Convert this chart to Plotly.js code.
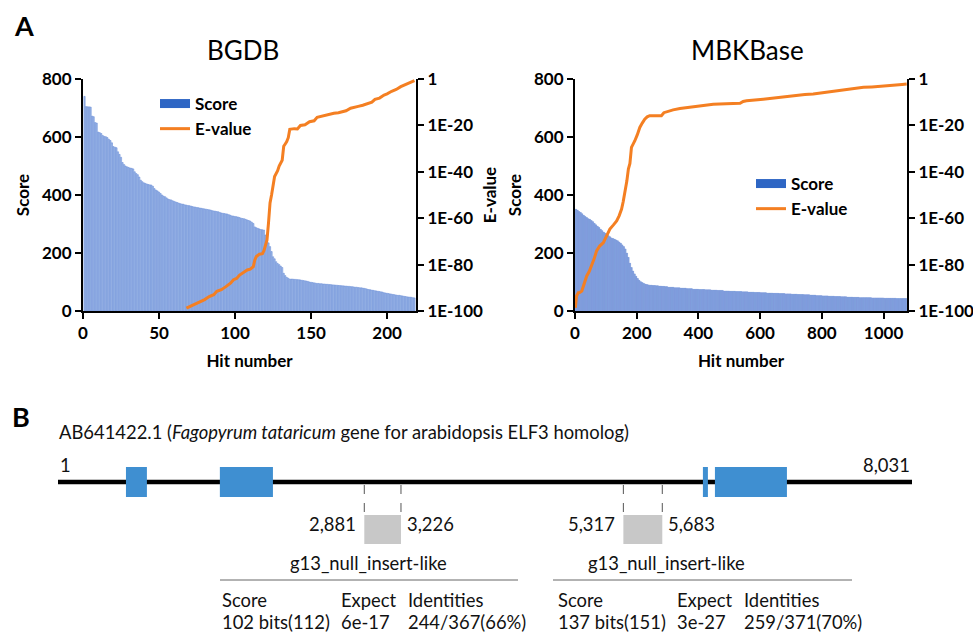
<!DOCTYPE html>
<html>
<head>
<meta charset="utf-8">
<script src="https://cdn.plot.ly/plotly-3.0.1.min.js"></script>
<style>html,body{margin:0;padding:0;background:#fff;}#chart{width:973px;height:635px;}</style>
</head>
<body>
<div id="chart"></div>
<script>
// ---------- Panel A: BGDB ----------
const bgdbScores = [
740,705,704,704,703,672,670,650,648,617,615,612,605,602,601,598,592,588,580,567,
565,563,549,540,530,512,505,500,497,495,493,492,490,480,474,470,462,451,446,442,
440,438,436,435,434,430,422,417,414,410,405,400,396,394,390,386,384,383,380,378,
376,374,372,370,369,368,366,365,364,363,362,360,359,358,357,356,355,354,353,352,
351,350,349,348,346,345,344,343,342,340,338,337,336,335,334,332,330,328,327,326,
325,324,322,320,319,318,316,314,312,310,306,302,290,287,285,283,281,280,279,262,
245,235,222,205,187,180,170,164,160,155,150,130,122,116,113,110,110,110,109,109,
108,108,107,106,105,104,103,102,100,99,98,97,96,95,95,94,94,93,93,92,
92,91,91,90,90,89,89,88,88,87,87,86,86,85,85,84,84,83,82,82,
81,80,80,79,78,77,75,74,73,72,71,70,69,68,67,66,65,63,62,61,
60,59,58,57,56,55,54,54,53,52,51,50,49,48,48,47,46,45];
const bgdbEHits = [68,70,72,75,77,80,83,86,88,91,94,97,99,101,103,106,108,110,112,113,114,116,118,119,120,121,122,123,124,126,128,129,131,132,133,134,135,136,139,141,143,146,149,152,154,157,160,163,165,168,170,173,176,178,181,184,187,190,192,195,198,200,203,206,209,212,214,216,218];
const bgdbEValues = [1.6e-99,6e-99,3.2e-98,2e-97,1e-96,8e-96,1.6e-94,1e-93,3.2e-92,1.6e-91,3.2e-90,1e-88,3.2e-87,1e-86,3.2e-85,6e-84,5e-83,1e-82,1.3e-81,1e-78,3e-77,3.2e-76,5e-76,1e-74,1e-72,4e-70,1e-62,4e-54,1e-50,1e-42,3e-40,3.2e-38,1e-35,1e-29,1e-28,1e-27,5e-26,2e-22,4e-22,3e-22,1e-20,2e-20,4e-19,1e-18,3.2e-17,1e-16,3.2e-16,6e-16,1.6e-15,3e-15,6.3e-15,2e-14,2.5e-13,4e-13,1.6e-12,5e-12,3.2e-11,1e-10,1.6e-9,6e-9,1.3e-7,4e-7,5e-6,3e-5,5e-4,3e-3,1e-2,5e-2,0.2];

// ---------- Panel A: MBKBase (score levels with number of hits at each level) ----------
const mbkScoreLevels = [351,348,343,340,335,330,326,322,318,316,312,308,302,297,292,288,282,277,272,268,
264,260,256,252,250,248,245,242,238,234,228,222,214,200,185,165,150,138,128,120,
112,106,101,98,95,93,91,90,89,88,87,86,85,84,82,80,79,77,75,74,
73,72,71,69,68,67,66,65,64,63,62,61,60,59,58,57,56,55,53,52,
51,50,49,48,47,46,46,45,45,44,44,43,43];
const mbkScoreCounts = [5,5,5,5,5,5,5,5,5,5,5,5,5,5,5,5,5,5,5,5,
5,5,5,5,5,5,5,5,5,5,5,5,5,5,5,5,5,5,5,5,
5,5,5,5,5,5,5,5,10,10,10,10,10,10,20,20,20,20,20,20,
20,20,20,20,20,20,20,20,20,20,20,20,20,20,20,20,20,20,20,20,
20,20,20,20,20,20,20,20,20,20,20,20,15];
const mbkEHits = [1,3,5,11,16,22,27,33,38,46,54,62,70,80,92,102,113,124,135,143,151,156,162,168,173,178,183,189,194,202,210,218,226,234,242,260,280,288,297,318,340,367,394,420,448,490,535,545,556,610,664,690,718,745,772,800,826,855,881,910,935,962,989,1016,1043,1060,1075];
const mbkEValues = [2.5e-99,1e-96,3.2e-94,8e-93,1e-92,4e-92,6.3e-90,1e-87,1.3e-85,1e-83,2.5e-81,3e-78,8e-75,1e-72,3.2e-71,1e-68,2e-65,1e-63,6.3e-62,1e-59,8e-57,1e-53,1e-49,1e-44,1.6e-39,4e-37,3.2e-30,1e-28,2.5e-27,1e-24,1.3e-21,1e-19,5e-18,5e-17,1.6e-16,1.6e-16,1.6e-16,3e-15,8e-15,5e-14,2e-13,6e-13,1.6e-12,5e-12,1.3e-11,2e-11,3.2e-11,2e-10,4e-10,2e-9,1.3e-8,3e-8,1.3e-7,2e-7,3.2e-7,1e-6,3.2e-6,1e-5,5e-5,1.3e-4,2.5e-4,4e-4,6.3e-4,1.3e-3,2.5e-3,4e-3,6.3e-3];

const scoreTicks = [0,200,400,600,800];
const eTickVals = [1,1e-20,1e-40,1e-60,1e-80,1e-100];
const eTickText = ['1','1E-20','1E-40','1E-60','1E-80','1E-100'];
const panelTitles = ['BGDB','MBKBase'];
const legendNames = ['Score','E-value'];

// ---------- Panel B ----------
const geneName = 'AB641422.1 (<i>Fagopyrum tataricum</i> gene for arabidopsis ELF3 homolog)';
const geneLength = 8031;
const geneEndLabels = ['1','8,031'];
const exonStarts = [640,1523,6065,6178];
const exonEnds = [837,2022,6112,6855];
const hitStarts = [2881,5317];
const hitEnds = [3226,5683];
const hitStartLabels = ['2,881','5,317'];
const hitEndLabels = ['3,226','5,683'];
const hitNames = ['g13_null_insert-like','g13_null_insert-like'];
const tableHeaders = ['Score','Expect','Identities'];
const hitScores = ['102 bits(112)','137 bits(151)'];
const hitExpects = ['6e-17','3e-27'];
const hitIdentities = ['244/367(66%)','259/371(70%)'];

// expand MBKBase score levels into per-hit values
const mbkScores = [];
mbkScoreLevels.forEach((v, i) => { for (let k = 0; k < mbkScoreCounts[i]; k++) mbkScores.push(v); });

const W = 973, H = 635;
const px = p => p / W;
const py = p => 1 - p / H;

const FONT = 'Lato, "Liberation Sans", Arial, sans-serif';
const ORANGE = '#f47f22';
const LEGBLUE = '#2e66c4';

const bold = (s) => ({family: FONT, size: s, color: '#000', weight: 'bold'});

const traces = [
  // BGDB bars
  {type: 'bar', x: bgdbScores.map((_, i) => i + 1), y: bgdbScores, width: 0.8,
   marker: {color: '#a8bfea', line: {color: '#6a8fd7', width: 0.6}},
   xaxis: 'x', yaxis: 'y', showlegend: false, hoverinfo: 'skip'},
  {type: 'scatter', mode: 'lines', x: [null], y: [null], name: legendNames[0],
   line: {color: LEGBLUE, width: 9}, xaxis: 'x', yaxis: 'y', legend: 'legend'},
  {type: 'scatter', mode: 'lines', x: bgdbEHits, y: bgdbEValues, name: legendNames[1],
   line: {color: ORANGE, width: 3}, xaxis: 'x', yaxis: 'y2', legend: 'legend'},
  // MBKBase bars
  {type: 'bar', x: mbkScores.map((_, i) => i + 1), y: mbkScores, width: 1,
   marker: {color: '#7f9edc', line: {color: '#7f9edc', width: 0.3}},
   xaxis: 'x2', yaxis: 'y3', showlegend: false, hoverinfo: 'skip'},
  {type: 'scatter', mode: 'lines', x: [null], y: [null], name: legendNames[0],
   line: {color: LEGBLUE, width: 9}, xaxis: 'x2', yaxis: 'y3', legend: 'legend2'},
  {type: 'scatter', mode: 'lines', x: mbkEHits, y: mbkEValues, name: legendNames[1],
   line: {color: ORANGE, width: 3}, xaxis: 'x2', yaxis: 'y4', legend: 'legend2'},
  // anchor trace for the gene axis
  {type: 'scatter', mode: 'lines', x: [1, geneLength], y: [0, 0], xaxis: 'x3', yaxis: 'y5',
   line: {color: 'rgba(0,0,0,0)', width: 0}, showlegend: false, hoverinfo: 'skip'}
];

const yDom = [py(311), py(79)];
const commonAxis = {
  showline: true, linecolor: '#000', linewidth: 2, ticks: 'outside', ticklen: 6, tickwidth: 2,
  tickcolor: '#000', showgrid: false, zeroline: false, tickfont: bold(17), fixedrange: true
};

const layout = {
  width: W, height: H,
  margin: {l: 0, r: 0, t: 0, b: 0},
  paper_bgcolor: '#fff', plot_bgcolor: 'rgba(0,0,0,0)',
  font: {family: FONT, color: '#000'},
  barmode: 'overlay',
  xaxis: Object.assign({}, commonAxis, {domain: [px(83), px(416)], range: [0, 219], anchor: 'y',
    tickvals: [0, 50, 100, 150, 200], title: {text: 'Hit number', font: bold(17), standoff: 13}}),
  yaxis: Object.assign({}, commonAxis, {domain: yDom, range: [0, 800], anchor: 'x',
    tickvals: scoreTicks, title: {text: 'Score', font: bold(17), standoff: 8}}),
  yaxis2: Object.assign({}, commonAxis, {domain: yDom, type: 'log', range: [-100, 0], anchor: 'x',
    overlaying: 'y', side: 'right', tickvals: eTickVals, ticktext: eTickText,
    title: {text: 'E-value', font: bold(17), standoff: 2}}),
  xaxis2: Object.assign({}, commonAxis, {domain: [px(575), px(907)], range: [0, 1076], anchor: 'y3',
    tickvals: [0, 200, 400, 600, 800, 1000], title: {text: 'Hit number', font: bold(17), standoff: 13}}),
  yaxis3: Object.assign({}, commonAxis, {domain: yDom, range: [0, 800], anchor: 'x2',
    tickvals: scoreTicks, title: {text: 'Score', font: bold(17), standoff: 8}}),
  yaxis4: Object.assign({}, commonAxis, {domain: yDom, type: 'log', range: [-100, 0], anchor: 'x2',
    overlaying: 'y3', side: 'right', tickvals: eTickVals, ticktext: eTickText}),
  xaxis3: {domain: [px(58), px(912)], range: [1, geneLength], anchor: 'y5', visible: false, fixedrange: true},
  yaxis5: {domain: [0, 0.3], range: [-1, 1], anchor: 'x3', visible: false, fixedrange: true},
  legend: {x: px(155), y: py(86), xanchor: 'left', yanchor: 'top', bgcolor: 'rgba(0,0,0,0)',
    font: bold(17), itemwidth: 30, traceorder: 'normal'},
  legend2: {x: px(751), y: py(166), xanchor: 'left', yanchor: 'top', bgcolor: 'rgba(0,0,0,0)',
    font: bold(17), itemwidth: 30, traceorder: 'normal'},
  shapes: [],
  annotations: []
};

const ann = layout.annotations, shp = layout.shapes;
// Panel labels and chart titles
ann.push({text: '<b>A</b>', x: px(12), y: py(25), xref: 'paper', yref: 'paper', xanchor: 'left', yanchor: 'middle',
  showarrow: false, font: {family: FONT, size: 27, color: '#000'}});
ann.push({text: '<b>B</b>', x: px(10), y: py(416), xref: 'paper', yref: 'paper', xanchor: 'left', yanchor: 'middle',
  showarrow: false, font: {family: FONT, size: 27, color: '#000'}});
ann.push({text: panelTitles[0], x: px(243), y: py(50), xref: 'paper', yref: 'paper', xanchor: 'center', yanchor: 'middle',
  showarrow: false, font: {family: FONT, size: 26, color: '#000'}});
ann.push({text: panelTitles[1], x: px(747), y: py(50), xref: 'paper', yref: 'paper', xanchor: 'center', yanchor: 'middle',
  showarrow: false, font: {family: FONT, size: 26, color: '#000'}});

// Panel B
const bFont = {family: FONT, size: 18.4, color: '#111'};
ann.push({text: geneName, x: px(57), y: py(432), xref: 'paper', yref: 'paper', xanchor: 'left', yanchor: 'middle',
  showarrow: false, font: bFont});
ann.push({text: geneEndLabels[0], x: 1, xref: 'x3', y: py(465), yref: 'paper', xanchor: 'left', yanchor: 'middle',
  showarrow: false, font: bFont});
ann.push({text: geneEndLabels[1], x: geneLength, xref: 'x3', y: py(465), yref: 'paper', xanchor: 'right', yanchor: 'middle',
  showarrow: false, font: bFont});
shp.push({type: 'line', xref: 'x3', yref: 'paper', x0: 1, x1: geneLength, y0: py(482), y1: py(482),
  line: {color: '#000', width: 4.5}});
exonStarts.forEach((s, i) => {
  shp.push({type: 'rect', xref: 'x3', yref: 'paper', x0: s, x1: exonEnds[i], y0: py(497), y1: py(467),
    fillcolor: '#3f8fd1', line: {width: 0}});
});
const nameX = [368, 666];
const tableX = [[220, 339, 406], [556, 675, 742]];
const tableLine = [[220, 518], [553, 852]];
hitStarts.forEach((s, i) => {
  const e = hitEnds[i];
  [s, e].forEach(v => shp.push({type: 'line', xref: 'x3', yref: 'paper', x0: v, x1: v, y0: py(485), y1: py(515),
    line: {color: '#555', width: 1, dash: 'dash'}}));
  shp.push({type: 'rect', xref: 'x3', yref: 'paper', x0: s, x1: e, y0: py(544), y1: py(515),
    fillcolor: '#c8c8c8', line: {width: 0}});
  ann.push({text: hitStartLabels[i], x: s, xref: 'x3', xshift: -6, y: py(524), yref: 'paper', xanchor: 'right', yanchor: 'middle',
    showarrow: false, font: bFont});
  ann.push({text: hitEndLabels[i], x: e, xref: 'x3', xshift: 4, y: py(524), yref: 'paper', xanchor: 'left', yanchor: 'middle',
    showarrow: false, font: bFont});
  ann.push({text: hitNames[i], x: px(nameX[i]), y: py(563), xref: 'paper', yref: 'paper', xanchor: 'center', yanchor: 'middle',
    showarrow: false, font: bFont});
  shp.push({type: 'line', xref: 'paper', yref: 'paper', x0: px(tableLine[i][0]), x1: px(tableLine[i][1]), y0: py(580), y1: py(580),
    line: {color: '#666', width: 1}});
  const vals = [hitScores[i], hitExpects[i], hitIdentities[i]];
  tableHeaders.forEach((h, j) => {
    ann.push({text: h, x: px(tableX[i][j]), y: py(600), xref: 'paper', yref: 'paper', xanchor: 'left', yanchor: 'middle',
      showarrow: false, font: bFont});
    ann.push({text: vals[j], x: px(tableX[i][j]), y: py(622), xref: 'paper', yref: 'paper', xanchor: 'left', yanchor: 'middle',
      showarrow: false, font: bFont});
  });
});

Plotly.newPlot('chart', traces, layout, {displayModeBar: false, staticPlot: true});
</script>
</body>
</html>
